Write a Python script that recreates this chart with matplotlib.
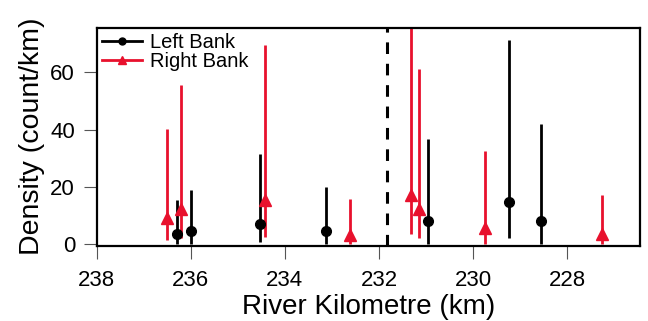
import matplotlib.pyplot as plt

plt.rcParams['font.family'] = ['Liberation Sans', 'DejaVu Sans']

# left bank: position (km), density, lower, upper
left_km = [236.3, 236.0, 234.53, 233.12, 230.95, 229.24, 228.56]
left_val = [3.7, 4.5, 7.2, 4.6, 8.0, 14.7, 8.1]
left_lo = [0.0, 0.0, 0.8, 0.0, 0.0, 2.3, 0.0]
left_hi = [15.3, 18.8, 31.6, 20.0, 36.8, 71.4, 41.8]

# right bank
right_km = [236.51, 236.2, 234.43, 232.62, 231.33, 231.14, 229.75, 227.26]
right_val = [9.0, 12.1, 15.3, 3.1, 17.0, 12.1, 5.8, 3.7]
right_lo = [1.4, 2.0, 2.5, 0.0, 3.7, 2.0, 0.0, 0.0]
right_hi = [40.3, 55.4, 69.7, 15.9, 80.0, 61.2, 32.5, 17.1]

split_km = 231.83
xticks = [238, 236, 234, 232, 230, 228]
yticks = [0, 20, 40, 60]

red = '#e8112d'

fig = plt.figure(figsize=(6.48, 3.21), dpi=100)
ax = fig.add_axes([0.149, 0.235, 0.839, 0.678])

ax.vlines(right_km, right_lo, right_hi, color=red, lw=2.0, zorder=2)
ax.vlines(left_km, left_lo, left_hi, color='black', lw=2.0, zorder=2)
ax.plot(right_km, right_val, ls='none', marker='^', ms=8, color=red, zorder=3)
ax.plot(left_km, left_val, ls='none', marker='o', ms=7, color='black', zorder=3)
ax.axvline(split_km, color='black', ls=(0, (3.8, 3.2)), lw=2.2, zorder=1)

# legend proxies
ax.plot([], [], color='black', lw=2, marker='o', ms=5, label='Left Bank')
ax.plot([], [], color=red, lw=2, marker='^', ms=6, label='Right Bank')
h, l = ax.get_legend_handles_labels()
ax.legend(h[-2:], l[-2:], loc='upper left', frameon=False, fontsize=14.5,
          handlelength=2.0, handletextpad=0.4, labelspacing=0.0,
          borderaxespad=0.05, borderpad=0.2)

ax.set_xlim(238, 226.45)
ax.set_ylim(-0.5, 75.5)
ax.set_xticks(xticks)
ax.set_yticks(yticks)
ax.tick_params(labelsize=16, length=9.5, width=0.8, color='#555555')
ax.tick_params(axis='x', pad=8)
ax.tick_params(axis='y', pad=6)
for s in ax.spines.values():
    s.set_linewidth(1.6)
ax.set_xlabel('River Kilometre (km)', fontsize=20, labelpad=2)
ax.set_ylabel('Density (count/km)', fontsize=20.5, labelpad=4)

fig.savefig('out.png', dpi=100)
